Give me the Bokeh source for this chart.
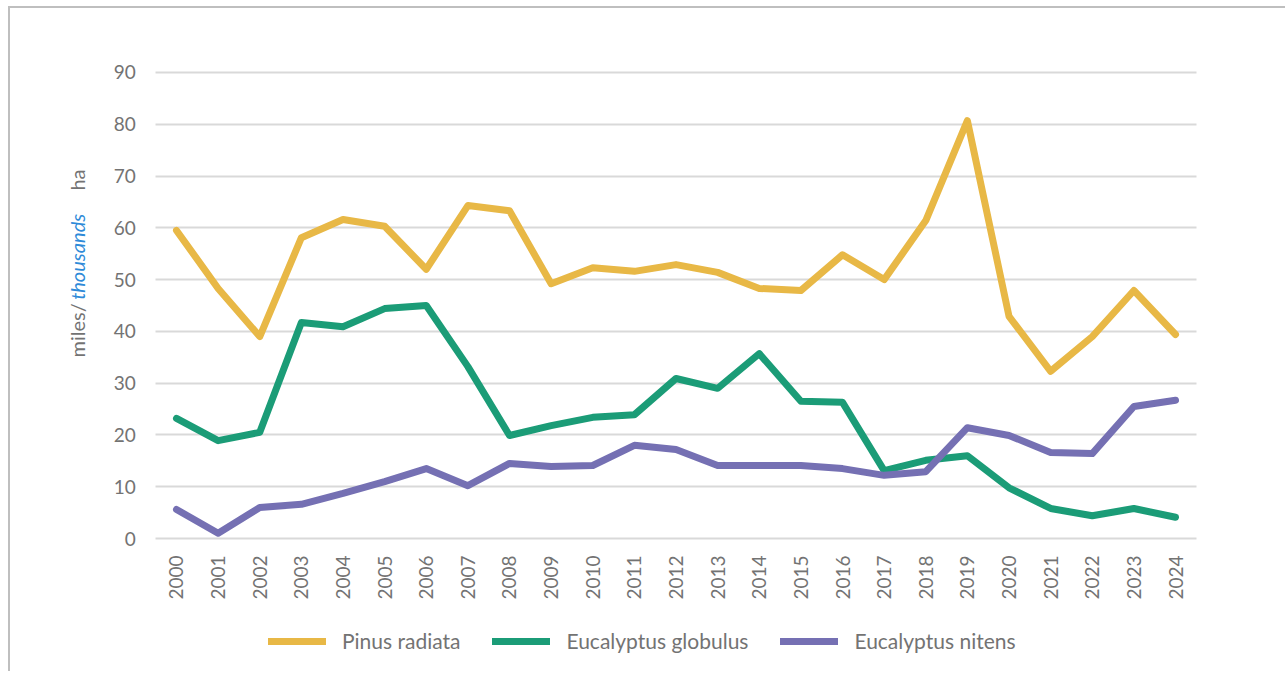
import math
from bokeh.plotting import figure
from bokeh.models import Range1d, FixedTicker, Legend, LegendItem, Label
from bokeh.embed import file_html
from bokeh.resources import INLINE

years = list(range(2000, 2025))
pinus_radiata = [59.5, 48.3, 39.0, 58.1, 61.6, 60.3, 52.0, 64.3, 63.3, 49.2,
                 52.3, 51.6, 52.9, 51.4, 48.3, 47.9, 54.8, 50.0, 61.4, 80.7,
                 42.9, 32.3, 39.0, 47.9, 39.4]
eucalyptus_globulus = [23.2, 18.9, 20.5, 41.7, 40.9, 44.4, 45.0, 33.2, 19.9, 21.8,
                       23.4, 23.9, 30.9, 29.0, 35.7, 26.5, 26.3, 13.1, 15.1, 16.0,
                       9.8, 5.8, 4.4, 5.8, 4.1]
eucalyptus_nitens = [5.6, 1.0, 6.0, 6.6, 8.7, 11.0, 13.5, 10.2, 14.5, 13.9,
                     14.1, 18.0, 17.2, 14.1, 14.1, 14.1, 13.5, 12.2, 12.9, 21.4,
                     19.9, 16.6, 16.4, 25.5, 26.7]
series_names = ["Pinus radiata", "Eucalyptus globulus", "Eucalyptus nitens"]
series_colors = ["#E8B846", "#1B9C77", "#7570B3"]
y_ticks = list(range(0, 100, 10))

FONT = "Lato"
GRAY = "#737373"

p = figure(x_range=Range1d(1996.012, 2026.69), y_range=Range1d(-26.07, 102.36),
           width=1277, height=665, output_backend="svg", toolbar_location=None,
           min_border=0, outline_line_color=None,
           styles={"border-left": "2px solid #bfbfbf", "border-top": "2px solid #bfbfbf",
                   "margin-left": "8px", "margin-top": "6px"})

p.xgrid.grid_line_color = None
p.ygrid.grid_line_color = "#d9d9d9"
p.ygrid.grid_line_width = 2
p.ygrid.cross_bounds = (years[0] - 0.5, years[-1] + 0.5)
p.yaxis.ticker = FixedTicker(ticks=y_ticks)
p.xaxis.ticker = FixedTicker(ticks=years)
p.yaxis.fixed_location = years[0] - 0.5
p.xaxis.fixed_location = 0

for ax in (p.xaxis[0], p.yaxis[0]):
    ax.axis_line_color = None
    ax.major_tick_line_color = None
    ax.minor_tick_line_color = None
    ax.major_label_text_font = FONT
    ax.major_label_text_font_size = "19px"
    ax.major_label_text_color = GRAY
p.xaxis.major_label_orientation = math.pi / 2
p.xaxis.major_label_standoff = 11
p.yaxis.major_label_standoff = 14

items = []
for name, vals, col in zip(series_names, [pinus_radiata, eucalyptus_globulus, eucalyptus_nitens], series_colors):
    r = p.line(years, vals, line_color=col, line_width=7, line_cap="round", line_join="round")
    items.append(LegendItem(label=name, renderers=[r]))

legend = Legend(items=items, orientation="horizontal", location=(258, 20),
                glyph_width=58, glyph_height=20, label_height=20, label_standoff=16,
                spacing=32, padding=0, margin=0, border_line_color=None,
                background_fill_alpha=0, label_text_font=FONT,
                label_text_font_size="21px", label_text_color=GRAY)
p.add_layout(legend, "center")

# mixed-style y-axis title
xl = 1997.62
for txt, yv, col, style in [("miles/", 34.96, GRAY, "normal"),
                            ("thousands", 46.1, "#2E8AD8", "italic"),
                            ("ha", 67.2, GRAY, "normal")]:
    p.add_layout(Label(x=xl, y=yv, text=txt, angle=math.pi / 2,
                       text_align="left", text_baseline="middle",
                       text_font=FONT, text_font_size="20px",
                       text_font_style=style, text_color=col))

open("out.html", "w").write(file_html(p, INLINE))
